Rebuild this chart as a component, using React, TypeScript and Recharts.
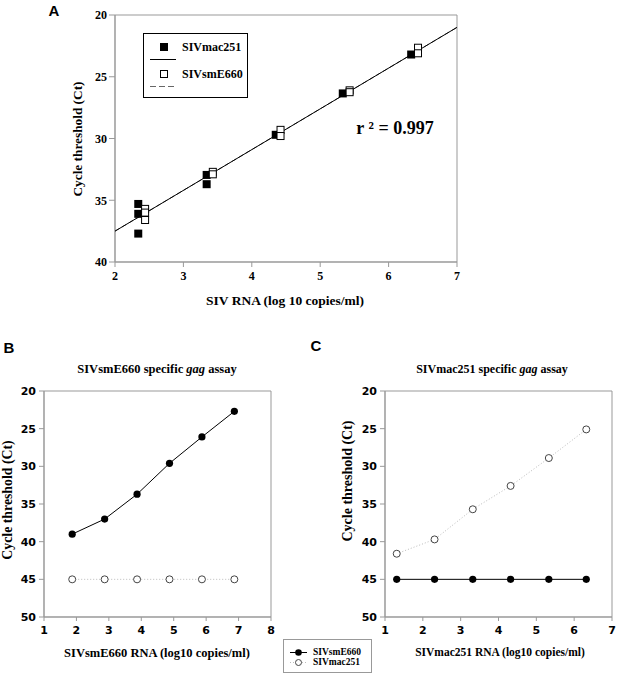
import { ScatterChart, Scatter, XAxis, YAxis, ReferenceArea, Legend } from 'recharts';

// Panel A - standard curve, both viruses
const aMacX = [2.34, 2.34, 2.34, 3.34, 3.34, 4.35, 5.33, 6.33];
const aMacY = [35.3, 36.1, 37.7, 32.95, 33.7, 29.7, 26.35, 23.2];
const aSmX = [2.44, 2.44, 2.44, 3.43, 3.43, 4.42, 4.42, 5.43, 5.43, 6.43, 6.43];
const aSmY = [35.7, 36.0, 36.6, 32.7, 32.9, 29.3, 29.8, 26.1, 26.25, 22.65, 23.1];
const aFitX = [2, 7];
const aFitMacY = [37.5, 21.0];
const aFitSmY = [37.5, 21.0];
const aXTicks = [2, 3, 4, 5, 6, 7];
const aYTicks = [20, 25, 30, 35, 40];

// Panel B - SIVsmE660 specific assay
const bX = [1.87, 2.87, 3.87, 4.87, 5.87, 6.87];
const bSmE660 = [39.0, 37.0, 33.7, 29.6, 26.1, 22.7];
const bMac251 = [45, 45, 45, 45, 45, 45];
const bXTicks = [1, 2, 3, 4, 5, 6, 7, 8];

// Panel C - SIVmac251 specific assay
const cX = [1.31, 2.31, 3.32, 4.32, 5.33, 6.32];
const cSmE660 = [45, 45, 45, 45, 45, 45];
const cMac251 = [41.6, 39.7, 35.7, 32.6, 28.9, 25.1];
const cXTicks = [1, 2, 3, 4, 5, 6, 7];

const bcYTicks = [20, 25, 30, 35, 40, 45, 50];

const zip = (xs: number[], ys: number[]) => xs.map((x, i) => ({ x, y: ys[i] }));

const serif = '"Liberation Serif", "Times New Roman", serif';
const sans = '"DejaVu Sans", Verdana, sans-serif';
const arial = '"Liberation Sans", Arial, sans-serif';
const grey = '#999';

const FilledSquare = (p: any) => <rect x={p.cx - 4} y={p.cy - 4} width={8} height={8} fill="#000" />;
const OpenSquare = (p: any) => (
    <rect x={p.cx - 3.5} y={p.cy - 3.5} width={7} height={7} fill="#fff" stroke="#000" strokeWidth={1} />
);
const FilledDot = (p: any) => <circle cx={p.cx} cy={p.cy} r={3.6} fill="#000" />;
const OpenDot = (p: any) => <circle cx={p.cx} cy={p.cy} r={3.5} fill="#fff" stroke="#444" strokeWidth={1} />;
const NoDot = () => <g />;

type TextProps = { x: number, y: number, size: number, font?: string, rotate?: boolean, children: any };
function Txt({ x, y, size, font, rotate, children }: TextProps) {
    return (
        <div style={{
            position: 'absolute', left: x, top: y, whiteSpace: 'nowrap', lineHeight: 1,
            transform: `translate(-50%, -50%)${rotate ? ' rotate(-90deg)' : ''}`,
            fontFamily: font || serif, fontWeight: 700, fontSize: size, color: '#000'
        }}>{children}</div>
    );
}

function LegendA() {
    return (
        <div style={{ position: 'relative', width: 105, height: 65, border: '1px solid #000', boxSizing: 'border-box', background: '#fff', fontFamily: serif, fontWeight: 700, fontSize: 12 }}>
            <svg width={40} height={63} style={{ position: 'absolute', left: 0, top: 0 }}>
                <rect x={16} y={9} width={8} height={8} fill="#000" />
                <line x1={6} x2={32} y1={25.5} y2={25.5} stroke="#000" />
                <rect x={16.5} y={36.5} width={7} height={7} fill="#fff" stroke="#000" />
                <line x1={6} x2={32} y1={52.5} y2={52.5} stroke="#666" strokeDasharray="6 3" />
            </svg>
            <div style={{ position: 'absolute', left: 38, top: 6 }}>SIVmac251</div>
            <div style={{ position: 'absolute', left: 38, top: 33 }}>SIVsmE660</div>
        </div>
    );
}

function LegendBC() {
    return (
        <div style={{ position: 'relative', width: 89, height: 34, border: `1px solid ${grey}`, boxSizing: 'border-box', background: '#fff', fontFamily: serif, fontWeight: 700, fontSize: 9.5 }}>
            <svg width={28} height={32} style={{ position: 'absolute', left: 0, top: 0 }}>
                <line x1={6} x2={23} y1={12.5} y2={12.5} stroke="#000" />
                <circle cx={14.5} cy={12.5} r={3.3} fill="#000" />
                <line x1={6} x2={23} y1={22.5} y2={22.5} stroke="#bbb" strokeDasharray="1 2" />
                <circle cx={14.5} cy={22.5} r={3} fill="#fff" stroke="#444" />
            </svg>
            <div style={{ position: 'absolute', left: 29, top: 7 }}>SIVsmE660</div>
            <div style={{ position: 'absolute', left: 29, top: 17 }}>SIVmac251</div>
        </div>
    );
}

const serifTick = { fill: '#000', fontSize: 12, fontFamily: serif, fontWeight: 700 };
const sansTick = { fill: '#000', fontSize: 11, fontFamily: sans, fontWeight: 700 };

export default function App() {
    return (
        <div style={{ position: 'absolute', left: 0, top: 0, width: 619, height: 677, background: '#fff' }}>
            {/* Panel A */}
            <div style={{ position: 'absolute', left: 0, top: 0 }}>
                <ScatterChart width={500} height={300} margin={{ top: 15, right: 43, bottom: 0, left: 0 }}>
                    <XAxis type="number" dataKey="x" domain={[2, 7]} ticks={aXTicks} height={38}
                        stroke={grey} tickSize={5} tickMargin={4} tick={serifTick} />
                    <YAxis type="number" dataKey="y" domain={[20, 40]} ticks={aYTicks} reversed width={115}
                        stroke={grey} tickSize={6} tickMargin={2} tick={serifTick} />
                    <ReferenceArea x1={2} x2={7} y1={20} y2={40} fill="none" stroke={grey} ifOverflow="visible" />
                    <Scatter data={zip(aFitX, aFitSmY)} shape={NoDot} line={{ stroke: '#555', strokeDasharray: '5 3', strokeWidth: 1 }} isAnimationActive={false} />
                    <Scatter data={zip(aFitX, aFitMacY)} shape={NoDot} line={{ stroke: '#000', strokeWidth: 1 }} isAnimationActive={false} />
                    <Scatter data={zip(aMacX, aMacY)} shape={FilledSquare} isAnimationActive={false} />
                    <Scatter data={zip(aSmX, aSmY)} shape={OpenSquare} isAnimationActive={false} />
                    <Legend layout="horizontal" align="center" verticalAlign="middle" content={() => <LegendA />}
                        wrapperStyle={{ left: 143, top: 33, width: 105, height: 65 }} />
                </ScatterChart>
            </div>

            {/* Panel B */}
            <div style={{ position: 'absolute', left: 0, top: 380 }}>
                <ScatterChart width={300} height={270} margin={{ top: 11, right: 29, bottom: 0, left: 0 }}>
                    <XAxis type="number" dataKey="x" domain={[1, 8]} ticks={bXTicks} height={33}
                        stroke={grey} tickSize={4} tickMargin={5} tick={sansTick} />
                    <YAxis type="number" dataKey="y" domain={[20, 50]} ticks={bcYTicks} reversed width={44}
                        stroke={grey} tickSize={5} tickMargin={3} tick={sansTick} />
                    <ReferenceArea x1={1} x2={8} y1={20} y2={50} fill="none" stroke={grey} ifOverflow="visible" />
                    <Scatter data={zip(bX, bMac251)} shape={OpenDot} line={{ stroke: '#bbb', strokeDasharray: '1 2' }} isAnimationActive={false} />
                    <Scatter data={zip(bX, bSmE660)} shape={FilledDot} line={{ stroke: '#000', strokeWidth: 1 }} isAnimationActive={false} />
                    <Legend layout="horizontal" align="center" verticalAlign="middle" content={() => <LegendBC />}
                        wrapperStyle={{ left: 283, top: 259, width: 89, height: 34 }} />
                </ScatterChart>
            </div>

            {/* Panel C */}
            <div style={{ position: 'absolute', left: 300, top: 380 }}>
                <ScatterChart width={319} height={270} margin={{ top: 11, right: 7, bottom: 0, left: 0 }}>
                    <XAxis type="number" dataKey="x" domain={[1, 7]} ticks={cXTicks} height={33}
                        stroke={grey} tickSize={4} tickMargin={5} tick={sansTick} />
                    <YAxis type="number" dataKey="y" domain={[20, 50]} ticks={bcYTicks} reversed width={85}
                        stroke={grey} tickSize={5} tickMargin={3} tick={sansTick} />
                    <ReferenceArea x1={1} x2={7} y1={20} y2={50} fill="none" stroke={grey} ifOverflow="visible" />
                    <Scatter data={zip(cX, cMac251)} shape={OpenDot} line={{ stroke: '#bbb', strokeDasharray: '1 2' }} isAnimationActive={false} />
                    <Scatter data={zip(cX, cSmE660)} shape={FilledDot} line={{ stroke: '#000', strokeWidth: 1 }} isAnimationActive={false} />
                </ScatterChart>
            </div>

            <Txt x={54} y={10} size={15} font={arial}>A</Txt>
            <Txt x={78} y={139} size={13.3} rotate>Cycle threshold (Ct)</Txt>
            <Txt x={285} y={301} size={13.5}>SIV RNA (log 10 copies/ml)</Txt>
            <Txt x={395} y={128} size={18}>r ² = 0.997</Txt>

            <Txt x={9} y={347} size={15} font={arial}>B</Txt>
            <Txt x={157} y={369} size={12.5}>SIVsmE660 specific <i>gag</i> assay</Txt>
            <Txt x={8} y={500} size={13.8} rotate>Cycle threshold (Ct)</Txt>
            <Txt x={157} y={653} size={12.5}>SIVsmE660 RNA (log10 copies/ml)</Txt>

            <Txt x={316} y={345} size={15} font={arial}>C</Txt>
            <Txt x={492} y={369} size={12}>SIVmac251 specific <i>gag</i> assay</Txt>
            <Txt x={348} y={481} size={14} rotate>Cycle threshold (Ct)</Txt>
            <Txt x={500} y={653} size={11.5}>SIVmac251 RNA (log10 copies/ml)</Txt>
        </div>
    );
}
